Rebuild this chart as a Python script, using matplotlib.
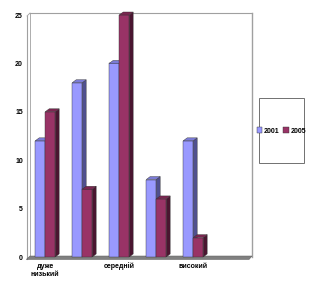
import numpy as np
import matplotlib.pyplot as plt
from matplotlib.patches import Polygon, Rectangle, Patch

plt.rcParams['font.family'] = ['Liberation Sans', 'DejaVu Sans']

categories = ["дуже\nнизький", "", "середній", "", "високий", ""]
series_names = ["2001", "2005"]
values_2001 = [12, 18, 20, 8, 12, np.nan]
values_2005 = [15, 7, 25, 6, 2, np.nan]

front = ["#9999FF", "#993366"]
side = ["#50508F", "#4A1530"]
top = ["#7B7BD6", "#7A2650"]

fig = plt.figure(figsize=(3.11, 2.85), dpi=100)
ax = fig.add_axes([30 / 311, 28 / 285, 222 / 311, 242 / 285])
ax.set_xlim(-0.5, 5.5)
ax.set_ylim(0, 25)

# depth of the 3d look in data units (about 4 px right, 3 px up)
dx = 4 / 37
dy = 3 / 242 * 25
w = 0.27
shift = -0.09

x = np.arange(len(categories))
for k, vals in enumerate([values_2001, values_2005]):
    xs = x + shift + (k - 0.5) * w
    bars = ax.bar(xs, vals, width=w, color=front[k], edgecolor="#333333",
                  linewidth=0.3, zorder=3, clip_on=False)
    for xc, v in zip(xs, vals):
        if np.isnan(v):
            continue
        x0, x1 = xc - w / 2, xc + w / 2
        ax.add_patch(Polygon([(x1, 0), (x1 + dx, dy), (x1 + dx, v + dy), (x1, v)],
                             closed=True, facecolor=side[k], edgecolor="#333333",
                             linewidth=0.3, zorder=3, clip_on=False))
        ax.add_patch(Polygon([(x0, v), (x0 + dx, v + dy), (x1 + dx, v + dy), (x1, v)],
                             closed=True, facecolor=top[k], edgecolor="#333333",
                             linewidth=0.3, zorder=3, clip_on=False))

# walls and floor
for s in ax.spines.values():
    s.set_visible(False)
wall = "#A0A0A0"
ax.plot([-0.5, 5.5], [25.2, 25.2], color=wall, lw=0.8, clip_on=False)
ax.plot([5.5, 5.5], [0, 25.2], color=wall, lw=1.0, clip_on=False)
ax.plot([-0.5, -0.5], [0, 25.2], color=wall, lw=0.6, clip_on=False)
ax.plot([-0.58, -0.58], [-0.2, 24.9], color=wall, lw=0.8, clip_on=False)
ax.plot([-0.58, -0.5], [24.9, 25.2], color=wall, lw=0.6, clip_on=False)
ax.add_patch(Polygon([(-0.6, -0.25), (-0.5, 0.1), (5.5, 0.1), (5.42, -0.25)],
                     closed=True, facecolor="#808080", edgecolor="#606060",
                     linewidth=0.4, clip_on=False, zorder=2))

ax.set_yticks([0, 5, 10, 15, 20, 25])
ax.set_yticklabels(["0", "5", "10", "15", "20", "25"], fontsize=5, fontweight="bold")
ax.set_xticks(x + shift)
ax.set_xticklabels(categories, fontsize=5, fontweight="bold", linespacing=1.3)
ax.tick_params(axis="both", length=0, pad=5)
ax.tick_params(axis="x", pad=4)

# legend box
fig.patches.append(Rectangle((259 / 311, 122 / 285), 45 / 311, 65 / 285,
                             transform=fig.transFigure, facecolor="white",
                             edgecolor="#707070", linewidth=0.7))
handles = [Patch(facecolor=front[i], edgecolor="#333333", linewidth=0.3)
           for i in range(2)]
fig.legend(handles, series_names, loc="center", bbox_to_anchor=(281.5 / 311, 154 / 285),
           ncol=2, frameon=False, fontsize=5, handlelength=0.8, handleheight=0.8,
           handletextpad=0.3, columnspacing=0.5, borderpad=0,
           prop={"weight": "bold", "size": 5})

fig.savefig("out.png", dpi=100)
